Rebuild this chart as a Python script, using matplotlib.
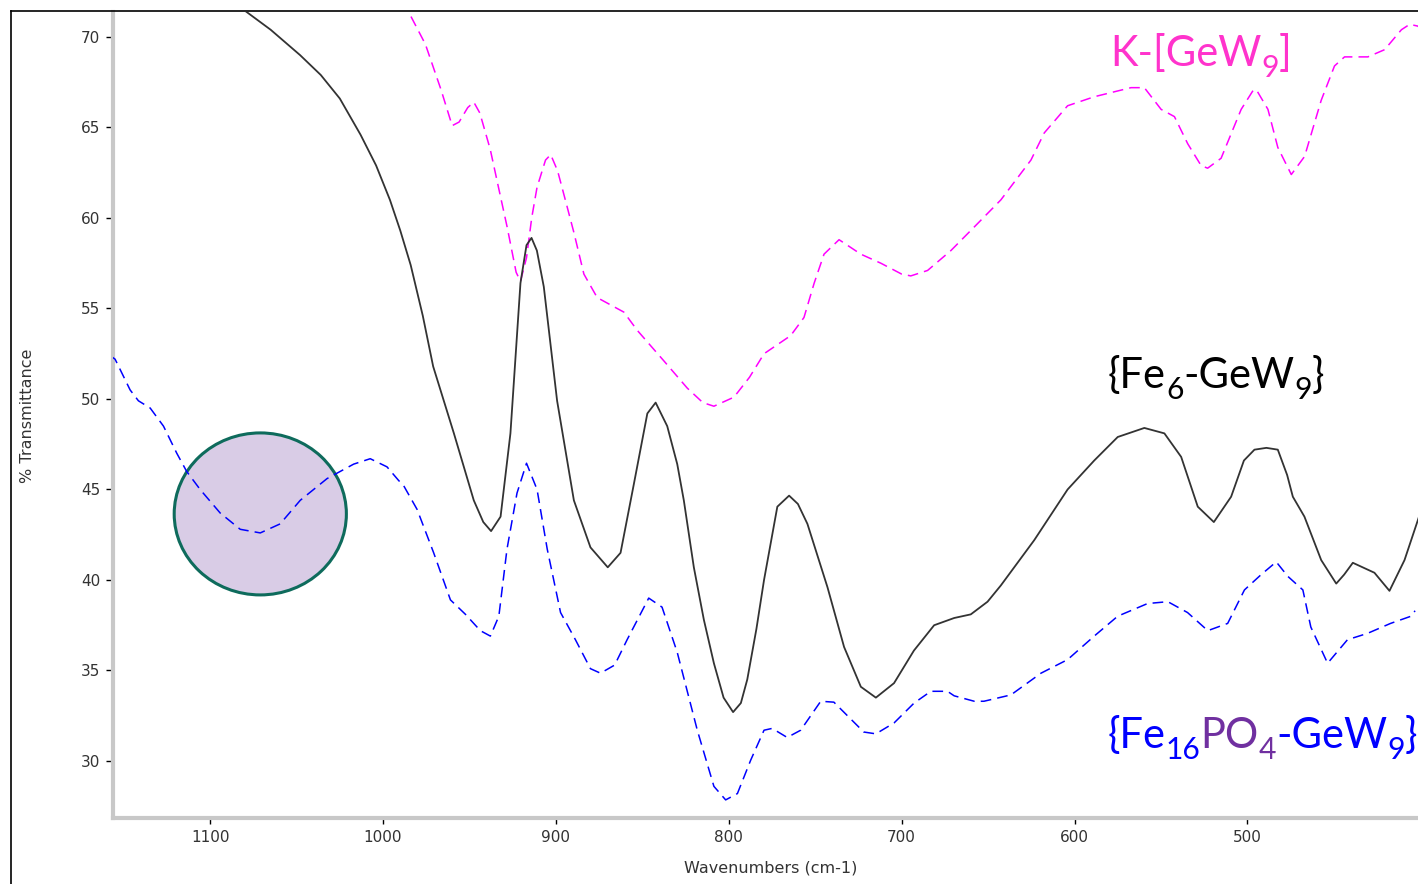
import matplotlib
matplotlib.use("Agg")
import matplotlib.pyplot as plt
from matplotlib.patches import Ellipse
from matplotlib.lines import Line2D
from matplotlib.ticker import MultipleLocator

W, H = 1418, 884

# K-[GeW9] (magenta, dashed)
wn_k = [987, 985.3, 975.5, 966.5, 960, 956, 951, 947.5, 944, 938, 933, 928.2, 923, 920.5,
        917, 914, 910.9, 906, 903, 899, 894, 889.6, 883.8, 876.1, 860.7, 853, 837.5, 824,
        815, 808.6, 797, 788, 779.6, 764.2, 756.5, 750.6, 744.9, 736.2, 723.6, 712, 700,
        694.7, 685, 671.5, 657, 642.6, 625.2, 617.5, 604, 588.5, 567.3, 559.6, 549.9, 542.2,
        534.5, 526.8, 523, 515.2, 503.6, 497, 494.9, 488.1, 482.4, 474.6, 466.9, 457.3,
        449.6, 443.8, 430.3, 420.6, 410.9, 406.1, 401.4, 399]
tr_k = [72.0, 71.4, 69.6, 67.1, 65.1, 65.3, 66.1, 66.4, 65.8, 63.8, 61.6, 59.5, 57.0, 56.5,
        57.8, 60.0, 61.7, 63.2, 63.5, 62.6, 60.8, 59.2, 56.9, 55.6, 54.8, 53.8, 52.1, 50.6,
        49.8, 49.6, 50.1, 51.2, 52.5, 53.5, 54.5, 56.4, 58.0, 58.8, 58.0, 57.5, 56.9,
        56.8, 57.1, 58.2, 59.6, 61.0, 63.2, 64.7, 66.2, 66.7, 67.2, 67.2, 66.0, 65.6,
        64.1, 62.9, 62.75, 63.3, 66.0, 67.0, 67.1, 66.0, 63.9, 62.4, 63.4, 66.5,
        68.4, 68.9, 68.9, 69.3, 70.4, 70.7, 70.6, 70.4]

# {Fe6-GeW9} (black, solid)
wn_fe6 = [1082, 1065, 1048, 1036, 1025, 1013, 1004, 996, 990, 984, 977, 971, 959, 947.5, 942,
          937.5, 932, 926.3, 920.5, 917, 914.1, 911, 907, 899.3, 889.6, 880, 870, 862.6,
          854.9, 847.1, 842.3, 835.6, 829.8, 826, 820.2, 814.4, 808.6, 803, 797.5, 793,
          789.3, 784, 779.6, 771.9, 765.1, 760, 754.5, 742.9, 733.3, 723.6, 714.9, 704.4,
          692.9, 681.2, 669.6, 660, 650.3, 642.6, 623.3, 604, 588.6, 575, 559.6, 548,
          538.3, 528.7, 519.4, 509.4, 502, 495.9, 489, 482.4, 477, 473.7, 467, 457.3,
          448.6, 444, 439, 426.5, 417.8, 409.1, 401.4, 399]
tr_fe6 = [71.6, 70.4, 69.0, 67.9, 66.6, 64.6, 62.9, 61.0, 59.3, 57.4, 54.6, 51.8, 48.1, 44.4, 43.2,
          42.7, 43.5, 48.1, 56.4, 58.5, 58.9, 58.2, 56.2, 49.9, 44.4, 41.8, 40.7, 41.5,
          45.3, 49.2, 49.8, 48.5, 46.4, 44.4, 40.7, 37.8, 35.4, 33.5, 32.7, 33.2,
          34.5, 37.3, 40.0, 44.05, 44.66, 44.2, 43.1, 39.6, 36.3, 34.1, 33.5, 34.3,
          36.1, 37.5, 37.9, 38.1, 38.8, 39.7, 42.2, 45.0, 46.6, 47.9, 48.4, 48.1,
          46.8, 44.05, 43.2, 44.6, 46.6, 47.2, 47.3, 47.2, 45.8, 44.6, 43.5, 41.1,
          39.8, 40.3, 40.95, 40.4, 39.4, 41.1, 43.3, 44.0]

# {Fe16PO4-GeW9} (blue, dashed)
wn_fe16 = [1158, 1155, 1146.3, 1141.5, 1134.7, 1127, 1119.3, 1113.6, 1105.8, 1094.2, 1082.6,
           1071, 1059.5, 1047.9, 1032.4, 1017, 1007.4, 997.7, 991, 988, 980.3, 970.7, 961,
           952.3, 943.7, 937.9, 933, 928.3, 922.5, 917, 910.9, 905, 897.3, 888.7, 880,
           874.2, 866, 858.8, 846.3, 838.6, 829.8, 818.2, 808.6, 801.8, 795, 787.3, 779.6,
           774.9, 766.2, 758.4, 746.8, 739.2, 721.9, 714.9, 704.4, 692.8, 683.1, 673.5,
           669.6, 658, 652.4, 636.8, 619.4, 604, 588.6, 575, 557.7, 546, 534.6, 522.9,
           511.4, 501.7, 492, 483.3, 476.6, 467.9, 463.3, 453.6, 442.1, 430.5, 417.2,
           405.3, 403]
tr_fe16 = [52.4, 52.2, 50.5, 49.9, 49.5, 48.5, 47.0, 46.0, 45.0, 43.7, 42.8,
           42.6, 43.1, 44.4, 45.6, 46.4, 46.7, 46.25, 45.5, 45.2, 43.9, 41.5, 38.9,
           38.1, 37.2, 36.9, 38.0, 41.7, 44.8, 46.45, 45.0, 41.7, 38.2, 36.7, 35.1,
           34.85, 35.3, 36.7, 39.0, 38.5, 36.0, 31.7, 28.6, 27.85, 28.2, 30.05, 31.7,
           31.8, 31.3, 31.7, 33.3, 33.25, 31.6, 31.5, 32.1, 33.2, 33.85, 33.85,
           33.6, 33.3, 33.3, 33.65, 34.85, 35.6, 36.9, 38.0, 38.7, 38.8, 38.2, 37.2,
           37.6, 39.45, 40.3, 41.0, 40.2, 39.45, 37.4, 35.4, 36.7, 37.05, 37.6,
           38.0, 38.3]

fig = plt.figure(figsize=(W / 100, H / 100), dpi=100)
ax = fig.add_axes([113 / W, 66 / H, 1305 / W, 806 / H])

ax.add_patch(Ellipse((1071, 43.65), width=99.6, height=8.95, facecolor='#D9CCE6',
                     edgecolor='#0E6B5C', lw=2.2, zorder=1))

ax.plot(wn_k, tr_k, color='#FF00FF', lw=1.1, ls=(0, (7, 4)), zorder=3)
ax.plot(wn_fe6, tr_fe6, color='#333333', lw=1.3, zorder=3)
ax.plot(wn_fe16, tr_fe16, color='#0000FF', lw=1.1, ls=(0, (7, 4)), zorder=3)

ax.set_xlim(1156.2, 401.3)
ax.set_ylim(26.85, 71.38)

for s in ['top', 'right']:
    ax.spines[s].set_visible(False)
for s in ['left', 'bottom']:
    ax.spines[s].set_color('#C8C8C8')
    ax.spines[s].set_linewidth(3)

ax.xaxis.set_major_locator(MultipleLocator(100))
ax.xaxis.set_minor_locator(MultipleLocator(25))
ax.yaxis.set_major_locator(MultipleLocator(5))
ax.yaxis.set_minor_locator(MultipleLocator(1))
ax.tick_params(which='major', direction='out', length=5, width=1, color='black',
               labelsize=11, labelcolor='#333333')
ax.tick_params(axis='x', which='major', length=4, pad=5)
ax.tick_params(axis='y', which='major', pad=4)
ax.tick_params(which='minor', direction='inout', length=3, width=1.5, color='black')

fig.text(771 / W, 1 - 868 / H, 'Wavenumbers (cm-1)', ha='center', va='center',
         fontsize=11.5, color='#333333')
fig.text(27 / W, 1 - 416 / H, '% Transmittance', ha='center', va='center',
         rotation=90, fontsize=11.5, color='#333333')

# outer frame (left and top)
fig.add_artist(Line2D([11 / W, 11 / W], [0, 1 - 11 / H], transform=fig.transFigure,
                      color='black', lw=1.2))
fig.add_artist(Line2D([11 / W, 1], [1 - 11 / H, 1 - 11 / H], transform=fig.transFigure,
                      color='black', lw=1.2))

renderer = fig.canvas.get_renderer()


def label(x, y, parts, size):
    # parts: (text, colour, is_subscript)
    for txt, col, sub in parts:
        fs = size * 0.72 if sub else size
        yy = y + (11 if sub else 0)
        t = fig.text(x / W, 1 - yy / H, txt, fontsize=fs, color=col, family='Lato',
                     ha='left', va='baseline')
        x += t.get_window_extent(renderer).width


fs_lab = 30
label(1110, 66, [('K-[GeW', '#FF33CC', False), ('9', '#FF33CC', True),
                 (']', '#FF33CC', False)], fs_lab)
label(1108, 388, [('{Fe', 'black', False), ('6', 'black', True), ('-GeW', 'black', False),
                  ('9', 'black', True), ('}', 'black', False)], fs_lab)
label(1108, 748, [('{Fe', '#0000FF', False), ('16', '#0000FF', True),
                  ('PO', '#7030A0', False), ('4', '#7030A0', True),
                  ('-GeW', '#0000FF', False), ('9', '#0000FF', True),
                  ('}', '#0000FF', False)], fs_lab)

fig.savefig('out.png', dpi=100)
